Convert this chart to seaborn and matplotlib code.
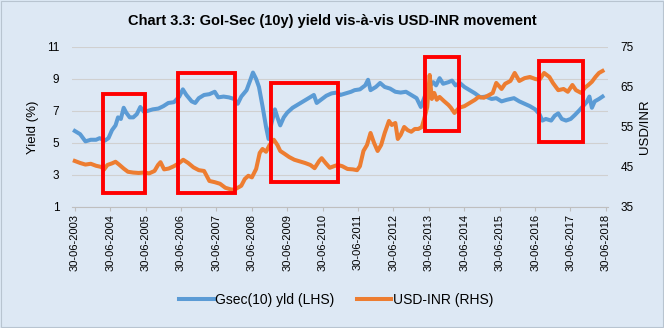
import matplotlib
matplotlib.use("Agg")
import matplotlib.pyplot as plt
from matplotlib.patches import Rectangle
import seaborn as sns
import pandas as pd

plt.rcParams['font.family'] = ['Liberation Sans', 'DejaVu Sans']

title = "Chart 3.3: GoI-Sec (10y) yield vis-à-vis USD-INR movement"

# Gsec 10y yield (LHS), x in decimal years
gsec_t = [2003.50, 2003.65, 2003.80, 2003.95, 2004.10, 2004.20, 2004.35, 2004.45, 2004.55, 2004.65,
          2004.72, 2004.80, 2004.88, 2004.95, 2005.05, 2005.15, 2005.25, 2005.35, 2005.45, 2005.55,
          2005.70, 2005.86, 2006.00, 2006.14, 2006.30, 2006.45, 2006.55, 2006.65, 2006.80, 2006.90,
          2007.00, 2007.15, 2007.30, 2007.45, 2007.55, 2007.70, 2007.85, 2008.00, 2008.10, 2008.20,
          2008.35, 2008.45, 2008.53, 2008.62, 2008.70, 2008.80, 2008.90, 2008.97, 2009.05, 2009.15,
          2009.22, 2009.30, 2009.40, 2009.50, 2009.65, 2009.80, 2009.95, 2010.10, 2010.25, 2010.33,
          2010.45, 2010.60, 2010.75, 2010.90, 2011.00, 2011.15, 2011.30, 2011.40, 2011.55, 2011.70,
          2011.78, 2011.85, 2012.00, 2012.12, 2012.25, 2012.40, 2012.55, 2012.70, 2012.85, 2013.00,
          2013.15, 2013.27, 2013.38, 2013.50, 2013.62, 2013.70, 2013.80, 2013.90, 2014.05, 2014.15,
          2014.25, 2014.37, 2014.50, 2014.65, 2014.80, 2014.95, 2015.10, 2015.27, 2015.40, 2015.55,
          2015.70, 2015.90, 2016.05, 2016.20, 2016.35, 2016.50, 2016.62, 2016.70, 2016.80, 2016.95,
          2017.05, 2017.15, 2017.25, 2017.37, 2017.50, 2017.62, 2017.75, 2017.85, 2017.95, 2018.03,
          2018.10, 2018.18, 2018.30, 2018.40]
gsec_v = [5.75, 5.55, 5.1, 5.2, 5.2, 5.3, 5.15, 5.3, 5.8, 6.1,
          6.6, 6.5, 7.2, 6.9, 6.6, 6.6, 6.8, 7.25, 6.95, 7.0,
          7.1, 7.15, 7.3, 7.5, 7.55, 7.9, 8.35, 8.0, 7.6, 7.5,
          7.8, 8.0, 8.05, 8.2, 7.85, 7.9, 7.85, 7.75, 7.45, 7.9,
          8.3, 8.9, 9.4, 9.0, 8.5, 7.3, 6.0, 5.25, 6.2, 7.1,
          6.6, 6.1, 6.6, 6.9, 7.2, 7.4, 7.6, 7.8, 8.0, 7.5,
          7.7, 7.95, 8.1, 8.15, 8.0, 8.1, 8.2, 8.3, 8.35, 8.6,
          8.95, 8.3, 8.5, 8.75, 8.5, 8.4, 8.2, 8.15, 8.2, 8.0,
          7.8, 7.25, 7.9, 8.5, 8.8, 8.6, 9.05, 8.7, 8.8, 8.9,
          8.6, 8.75, 8.5, 8.3, 8.1, 7.85, 7.9, 7.75, 7.8, 7.6,
          7.7, 7.8, 7.6, 7.45, 7.3, 7.1, 6.8, 6.4, 6.5, 6.4,
          6.7, 6.85, 6.5, 6.4, 6.5, 6.75, 7.05, 7.3, 7.55, 7.9,
          7.2, 7.6, 7.75, 7.9]

# USD-INR (RHS)
fx_t = [2003.50, 2003.65, 2003.80, 2003.95, 2004.10, 2004.25, 2004.32, 2004.42, 2004.55, 2004.65,
        2004.75, 2004.88, 2005.00, 2005.15, 2005.30, 2005.45, 2005.60, 2005.75, 2005.85, 2005.92,
        2006.02, 2006.15, 2006.30, 2006.45, 2006.56, 2006.70, 2006.85, 2007.00, 2007.15, 2007.30,
        2007.45, 2007.60, 2007.75, 2007.90, 2008.00, 2008.10, 2008.20, 2008.30, 2008.40, 2008.50,
        2008.62, 2008.72, 2008.80, 2008.90, 2009.00, 2009.12, 2009.22, 2009.30, 2009.42, 2009.55,
        2009.70, 2009.85, 2010.00, 2010.15, 2010.27, 2010.40, 2010.47, 2010.58, 2010.70, 2010.82,
        2010.92, 2011.05, 2011.20, 2011.35, 2011.47, 2011.55, 2011.65, 2011.75, 2011.85, 2011.95,
        2012.05, 2012.15, 2012.25, 2012.37, 2012.45, 2012.55, 2012.62, 2012.70, 2012.80, 2012.90,
        2013.00, 2013.10, 2013.20, 2013.30, 2013.38, 2013.45, 2013.52, 2013.58, 2013.65, 2013.72,
        2013.80, 2013.92, 2014.05, 2014.12, 2014.22, 2014.35, 2014.50, 2014.65, 2014.80, 2014.90,
        2015.05, 2015.20, 2015.30, 2015.40, 2015.55, 2015.65, 2015.80, 2015.92, 2016.05, 2016.20,
        2016.35, 2016.50, 2016.62, 2016.75, 2016.90, 2017.00, 2017.15, 2017.30, 2017.42, 2017.55,
        2017.65, 2017.80, 2017.90, 2018.00, 2018.10, 2018.20, 2018.30, 2018.40]
fx_v = [46.5, 46.0, 45.6, 45.8, 45.3, 45.0, 44.3, 45.5, 45.9, 46.3,
        45.6, 44.6, 43.8, 43.6, 43.5, 43.6, 43.4, 44.0, 45.5, 46.2,
        44.4, 44.6, 45.2, 46.0, 46.8, 46.0, 44.9, 44.2, 44.0, 41.5,
        41.2, 40.8, 39.8, 39.4, 39.3, 39.8, 40.3, 42.0, 42.8, 42.4,
        44.5, 48.5, 49.5, 48.8, 50.5, 51.8, 50.5, 49.0, 48.3, 47.5,
        46.8, 46.4, 46.0, 45.5, 44.7, 46.5, 47.2, 46.0, 44.8, 45.2,
        45.5, 45.2, 44.5, 44.4, 44.2, 45.2, 49.0, 50.5, 53.5, 51.0,
        49.0, 50.5, 53.5, 56.5, 55.5, 56.0, 52.0, 53.0, 55.0, 54.2,
        53.8, 54.5, 54.5, 55.0, 57.5, 60.0, 68.0, 62.0, 63.5, 61.8,
        62.5, 61.5, 60.5, 59.8, 58.5, 59.8, 60.2, 61.0, 61.8, 62.5,
        62.3, 63.0, 63.5, 66.0, 64.5, 65.8, 66.5, 68.5, 66.5, 67.2,
        67.5, 67.0, 66.8, 68.5, 67.5, 66.0, 64.2, 64.5, 63.8, 65.5,
        64.2, 63.5, 64.8, 65.5, 66.3, 67.5, 68.5, 69.0]

tick_years = list(range(2003, 2019))
tick_labels = [f"30-06-{y}" for y in tick_years]

# highlight boxes: (x0, x1) in years, (y0, y1) in LHS units
boxes = [(2004.31, 2005.49, 1.875, 8.06),
         (2006.41, 2008.01, 1.875, 9.375),
         (2009.05, 2010.92, 2.56, 8.75),
         (2013.39, 2014.34, 5.75, 10.375),
         (2016.61, 2017.84, 5.06, 10.125)]

bg = '#dde8f4'
blue = '#5b9bd5'
orange = '#ed7d31'

fig = plt.figure(figsize=(6.64, 3.28), dpi=100, facecolor=bg)
ax = fig.add_axes([0.1084, 0.369, 0.807, 0.4878])
ax.set_facecolor(bg)
ax2 = ax.twinx()

df1 = pd.DataFrame({'t': gsec_t, 'v': gsec_v})
df2 = pd.DataFrame({'t': fx_t, 'v': fx_v})
sns.lineplot(data=df1, x='t', y='v', ax=ax, color=blue, linewidth=2.9, label='Gsec(10) yld (LHS)', legend=False)
sns.lineplot(data=df2, x='t', y='v', ax=ax2, color=orange, linewidth=2.9, label='USD-INR (RHS)', legend=False)

ax.set_xlim(2003.42, 2018.55)
ax.set_ylim(1, 11)
ax.set_yticks([1, 3, 5, 7, 9, 11])
ax2.set_ylim(35, 75)
ax2.set_yticks([35, 45, 55, 65, 75])
ax.set_xticks([y + 0.496 for y in tick_years])
ax.set_xticklabels(tick_labels, rotation=90, fontsize=8)
ax.tick_params(axis='x', length=3, color='#bfbfbf', pad=2)
ax.tick_params(axis='y', length=0, labelsize=8.5, pad=9)
ax2.tick_params(axis='y', length=0, labelsize=8.5, pad=9)
ax.grid(axis='y', color='#d0d0d0', linewidth=0.8)
ax.set_axisbelow(True)
for a in (ax, ax2):
    for s in ['top', 'left', 'right', 'bottom']:
        a.spines[s].set_visible(False)
ax.spines['bottom'].set_visible(True)
ax.spines['bottom'].set_color('#bfbfbf')
ax.set_xlabel('')
ax.set_ylabel('Yield (%)', fontsize=9.5, labelpad=6)
ax2.set_ylabel('USD/INR', fontsize=9.5, labelpad=4)

for x0, x1, y0, y1 in boxes:
    ax2.add_patch(Rectangle((x0, y0), x1 - x0, y1 - y0, transform=ax.transData,
                            fill=False, edgecolor='#ff0000', linewidth=2.8, clip_on=False, zorder=5))

fig.text(0.5, 0.935, title, ha='center', va='center', fontsize=10.5, fontweight='bold')

h1, l1 = ax.get_legend_handles_labels()
h2, l2 = ax2.get_legend_handles_labels()
fig.legend(h1 + h2, l1 + l2, loc='center', bbox_to_anchor=(0.506, 0.085), ncol=2, frameon=False,
           fontsize=10, handlelength=2.5, handletextpad=0.1, columnspacing=1.6)

fig.add_artist(Rectangle((0.002, 0.003), 0.996, 0.994, transform=fig.transFigure, fill=False,
                         edgecolor='#b8c4d0', linewidth=0.8))

fig.savefig('out.png', dpi=100, facecolor=bg)
